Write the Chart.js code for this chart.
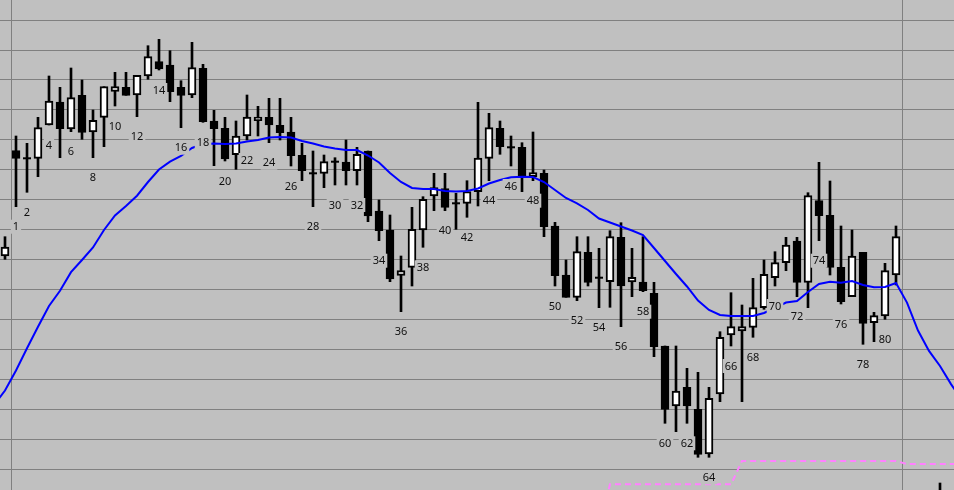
<!DOCTYPE html>
<html>
<head>
<meta charset="utf-8">
<script src="https://cdn.jsdelivr.net/npm/chart.js@4.4.1/dist/chart.umd.min.js"></script>
<style>
    html, body { margin: 0; padding: 0; background: #c0c0c0; }
    #wrap { width: 954px; height: 490px; }
</style>
</head>
<body>
<div id="wrap"><canvas id="priceChart" width="954" height="490"></canvas></div>
<script>
// bar number = position in the array (82-84 are empty)
const opens = [
    24.40, 34.93, 34.17, 34.17, 37.50, 39.80, 37.10, 40.47, 36.80, 38.27,
    40.87, 41.27, 40.50, 42.40, 43.83, 43.50, 41.27, 40.50, 43.17, 37.90,
    37.17, 34.53, 36.40, 37.93, 38.27, 37.47, 36.80, 34.47, 32.67, 32.67,
    33.83, 33.80, 32.93, 34.90, 28.90, 27.00, 22.47, 23.27, 27.00, 30.40,
    31.13, 29.67, 29.67, 30.83, 34.17, 37.17, 35.27, 35.27, 32.33, 32.67,
    27.40, 22.50, 20.27, 24.77, 22.23, 21.83, 26.27, 21.80, 21.80, 20.67,
    15.40, 9.40, 11.27, 9.07, 4.60, 10.60, 16.50, 16.90, 17.27, 19.23,
    22.23, 23.73, 25.90, 21.77, 29.93, 28.47, 23.27, 20.33, 24.77, 17.73,
    18.40, 22.50, null, null, null, -1.00
];
const highs = [
    26.33, 36.40, 35.67, 38.27, 42.40, 41.27, 43.20, 42.00, 39.00, 41.33,
    42.77, 42.77, 42.47, 45.43, 46.07, 44.93, 41.93, 45.77, 43.57, 38.97,
    38.27, 37.90, 40.50, 39.37, 40.17, 40.17, 38.27, 35.67, 34.90, 34.50,
    34.23, 36.00, 35.27, 34.90, 30.00, 28.50, 24.40, 29.27, 30.33, 32.67,
    32.67, 30.67, 31.93, 39.77, 38.67, 37.90, 36.40, 35.73, 36.80, 33.00,
    27.77, 24.00, 26.33, 26.33, 25.17, 26.93, 27.73, 25.17, 26.33, 21.77,
    15.40, 15.40, 13.17, 12.77, 11.27, 16.83, 20.73, 19.50, 22.17, 24.00,
    24.83, 26.27, 26.27, 30.73, 33.77, 31.90, 27.40, 27.00, 24.77, 18.77,
    23.67, 27.40, null, null, null, 1.70
];
const lows = [
    24.07, 29.33, 30.77, 32.33, 37.50, 34.23, 36.83, 36.07, 34.23, 35.33,
    39.40, 40.47, 38.33, 42.07, 43.00, 39.83, 37.23, 40.23, 37.77, 33.43,
    33.90, 33.07, 36.00, 36.40, 35.73, 36.00, 33.40, 31.93, 29.33, 31.23,
    31.50, 31.50, 31.50, 27.83, 25.93, 21.83, 18.83, 21.40, 25.27, 28.93,
    28.93, 27.07, 28.27, 29.40, 31.93, 34.57, 33.40, 30.83, 31.93, 26.33,
    21.40, 20.27, 19.93, 21.40, 19.23, 19.27, 17.33, 20.33, 20.83, 14.33,
    7.67, 6.83, 7.67, 4.27, 4.27, 9.83, 15.40, 9.83, 16.27, 19.07,
    21.40, 22.93, 20.33, 19.23, 25.93, 22.50, 19.60, 20.33, 15.57, 15.83,
    18.07, 21.50, null, null, null, -4.00
];
const closes = [
    25.30, 34.17, 34.17, 37.23, 39.90, 37.13, 40.23, 36.77, 37.97, 41.33,
    41.33, 40.47, 42.47, 44.33, 43.10, 40.83, 40.47, 43.23, 37.83, 37.13,
    34.10, 36.40, 38.30, 38.30, 37.50, 36.73, 34.43, 32.93, 32.67, 33.83,
    33.83, 32.93, 34.57, 28.40, 26.93, 22.10, 22.93, 27.07, 30.07, 31.23,
    29.27, 29.67, 30.83, 34.20, 37.23, 35.33, 35.27, 32.33, 32.73, 27.33,
    22.43, 20.27, 24.83, 21.77, 22.23, 26.33, 21.40, 22.27, 20.93, 15.33,
    9.07, 10.90, 9.40, 4.57, 10.17, 16.27, 17.33, 17.33, 19.23, 22.57,
    23.73, 25.50, 21.77, 30.43, 28.43, 23.27, 19.83, 24.40, 17.67, 18.43,
    22.93, 26.33, null, null, null, -3.00
];

const labelBars = [1, 2, 4, 6, 8, 10, 12, 14, 16, 18, 20, 22, 24, 26, 28, 30, 32, 34, 36, 38, 40,
    42, 44, 46, 48, 50, 52, 54, 56, 58, 60, 62, 64, 66, 68, 70, 72, 74, 76, 78, 80];

// moving average, first value belongs to bar -1
const avgFrom = -1;
const movingAvg = [
    9.50, 10.95, 12.95, 15.17, 17.32, 19.40, 20.92, 22.78, 24.00, 25.25,
    27.00, 28.45, 29.40, 30.43, 31.80, 33.05, 33.83, 34.40, 35.20, 35.60,
    35.65, 35.60, 35.65, 35.85, 36.00, 36.25, 36.30, 36.25, 35.90, 35.65,
    35.35, 35.15, 35.00, 35.00, 34.45, 33.75, 32.70, 31.80, 31.20, 31.10,
    31.10, 30.90, 30.85, 30.90, 31.15, 31.65, 32.00, 32.27, 32.33, 32.30,
    31.80, 31.00, 30.20, 29.67, 29.00, 28.15, 27.75, 27.35, 26.95, 26.50,
    25.20, 23.90, 22.60, 21.35, 19.95, 19.00, 18.50, 18.40, 18.40, 18.40,
    18.70, 19.20, 19.75, 19.90, 20.80, 21.60, 21.83, 21.73, 21.90, 21.50,
    21.27, 21.30, 21.70, 19.74, 16.95, 14.91, 13.40, 11.59, 10.00
];

// pink stop line, first value belongs to bar 54
const stopFrom = 54;
const stopLine = [
    -2.80, 1.57, 1.57, 1.57, 1.57, 1.57, 1.57, 1.57, 1.57, 1.57,
    1.57, 1.57, 1.57, 3.90, 3.90, 3.90, 3.90, 3.90, 3.90, 3.90,
    3.90, 3.90, 3.90, 3.90, 3.90, 3.90, 3.90, 3.90, 3.60, 3.60,
    3.60, 3.60, 3.60, 3.60
];

const gridLevels = [47.99, 45.00, 42.01, 39.01, 36.02, 33.03, 30.04, 27.05, 24.06,
    21.06, 18.07, 15.08, 12.08, 9.09, 6.10, 3.10];
const dividers = [0.59, 81.59];

const gridColor = '#808080';

document.addEventListener('DOMContentLoaded', function() {
    buildChart();
});

function candleParts() {
    const wicks = [], bodies = [], bodyColors = [], dojis = [];
    opens.forEach((o, i) => {
        if (o === null) return;
        wicks.push({ x: i, y: [lows[i], highs[i]] });
        if (o === closes[i]) {
            dojis.push({ x: i, y: o });
        } else {
            bodies.push({ x: i, y: [o, closes[i]] });
            bodyColors.push(closes[i] > o ? '#ffffff' : '#000000');
        }
    });
    return { wicks, bodies, bodyColors, dojis };
}

const barLabels = {
    id: 'barLabels',
    afterDatasetsDraw(chart) {
        const ctx = chart.ctx;
        const xs = chart.scales.x;
        const ys = chart.scales.y;
        ctx.save();
        ctx.font = '11px "Noto Sans"';
        ctx.textAlign = 'center';
        ctx.textBaseline = 'middle';
        labelBars.forEach(i => {
            const x = xs.getPixelForValue(i);
            const y = ys.getPixelForValue(lows[i]) + 20;
            const text = String(i);
            const w = ctx.measureText(text).width + 4;
            ctx.fillStyle = '#c0c0c0';
            ctx.fillRect(x - w / 2, y - 7, w, 14);
            ctx.fillStyle = '#101010';
            ctx.fillText(text, x, y + 0.5);
        });
        ctx.restore();
    }
};

function buildChart() {
    const parts = candleParts();
    const avgPoints = movingAvg.map((v, k) => ({ x: avgFrom + k, y: v }));
    const stopPoints = stopLine.map((v, k) => ({ x: stopFrom + k, y: v }));

    const ctx = document.getElementById('priceChart').getContext('2d');
    new Chart(ctx, {
        type: 'bar',
        data: {
            datasets: [
                {
                    type: 'line',
                    data: stopPoints,
                    borderColor: '#ff80ff',
                    borderWidth: 2,
                    borderDash: [6, 4],
                    pointRadius: 0,
                    tension: 0,
                    order: 0
                },
                {
                    type: 'line',
                    data: avgPoints,
                    borderColor: '#0000ff',
                    borderWidth: 2,
                    pointRadius: 0,
                    tension: 0,
                    order: 0
                },
                {
                    type: 'line',
                    data: parts.dojis,
                    showLine: false,
                    pointStyle: 'line',
                    pointRadius: 4,
                    borderColor: '#000000',
                    borderWidth: 2,
                    order: 1
                },
                {
                    type: 'bar',
                    data: parts.bodies,
                    backgroundColor: parts.bodyColors,
                    borderColor: '#000000',
                    borderWidth: 2,
                    borderSkipped: false,
                    barThickness: 8,
                    grouped: false,
                    order: 1
                },
                {
                    type: 'bar',
                    data: parts.wicks,
                    backgroundColor: '#000000',
                    borderWidth: 0,
                    barThickness: 2,
                    grouped: false,
                    order: 2
                }
            ]
        },
        options: {
            responsive: false,
            animation: false,
            devicePixelRatio: 1,
            events: [],
            layout: { padding: 0, autoPadding: false },
            plugins: {
                legend: { display: false },
                tooltip: { enabled: false }
            },
            scales: {
                x: {
                    type: 'linear',
                    min: -5 / 11,
                    max: 949 / 11,
                    offset: false,
                    ticks: { display: false },
                    border: { display: false },
                    grid: { color: gridColor, lineWidth: 1, drawTicks: false, offset: false },
                    afterBuildTicks: scale => { scale.ticks = dividers.map(v => ({ value: v })); }
                },
                y: {
                    type: 'linear',
                    min: 1,
                    max: 50,
                    beginAtZero: false,
                    ticks: { display: false },
                    border: { display: false },
                    grid: { color: gridColor, lineWidth: 1, drawTicks: false },
                    afterBuildTicks: scale => { scale.ticks = gridLevels.map(v => ({ value: v })); }
                }
            }
        },
        plugins: [barLabels]
    });
}
</script>
</body>
</html>
